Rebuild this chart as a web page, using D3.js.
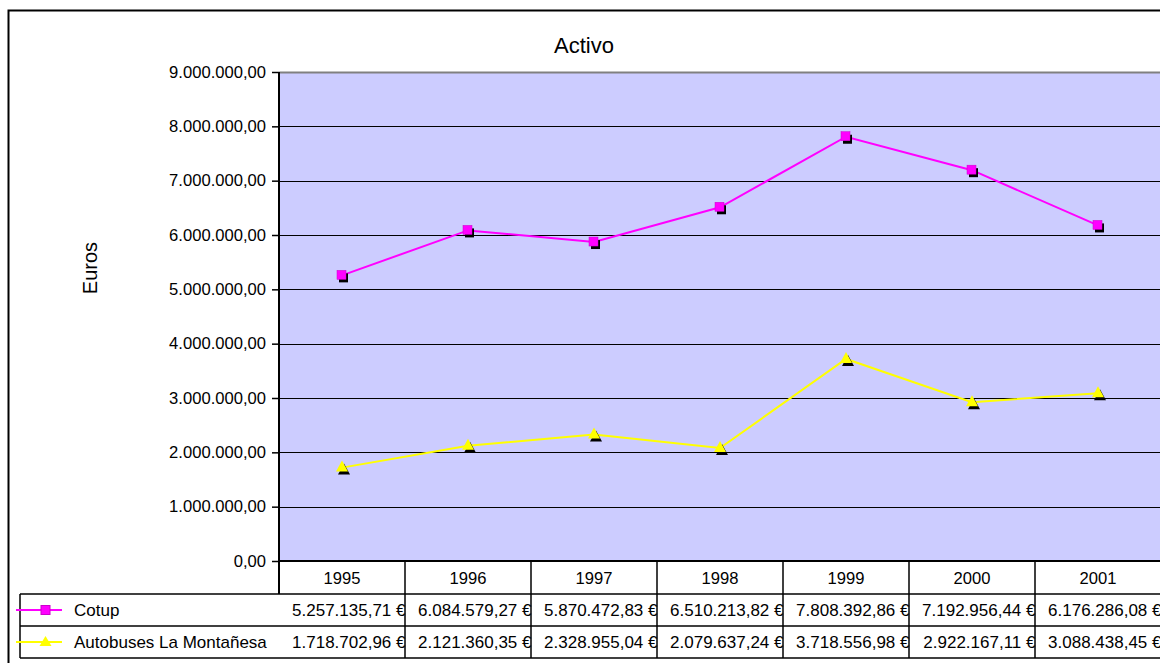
<!DOCTYPE html>
<html><head><meta charset="utf-8">
<script src="https://cdn.jsdelivr.net/npm/d3@7"></script>
<style>
html,body{margin:0;padding:0;background:#fff;overflow:hidden}
text{font-family:"Liberation Sans",Arial,sans-serif;fill:#000}
</style></head>
<body>
<svg id="c" width="1160" height="663"></svg>
<script>
const years = ["1995","1996","1997","1998","1999","2000","2001"];
const cotup = [5257135.71, 6084579.27, 5870472.83, 6510213.82, 7808392.86, 7192956.44, 6176286.08];
const montanesa = [1718702.96, 2121360.35, 2328955.04, 2079637.24, 3718556.98, 2922167.11, 3088438.45];
const seriesNames = ["Cotup", "Autobuses La Montañesa"];
const yTicks = [0,1000000,2000000,3000000,4000000,5000000,6000000,7000000,8000000,9000000];
const titleText = "Activo";
const yLabel = "Euros";

const loc = d3.formatLocale({decimal:",", thousands:".", grouping:[3], currency:["",""]});
const fmt = loc.format(",.2f");

const svg = d3.select("#c");
const L = 279, R = 1161, T = 72, B = 561;
const FS = "16.6px";
const FT = "17px";
const x = d3.scaleBand().domain(years).range([L, R]).padding(0);
const y = d3.scaleLinear().domain([0, 9000000]).range([B, T]);

// outer border
svg.append("rect").attr("x",8.5).attr("y",10.5).attr("width",1160).attr("height",660)
  .attr("fill","none").attr("stroke","#000").attr("stroke-width",2);

// title
svg.append("text").attr("x",584).attr("y",53).attr("text-anchor","middle")
  .style("font-size","22px").text(titleText);
svg.append("text").attr("transform","translate(97,268) rotate(-90)").attr("text-anchor","middle")
  .style("font-size","20px").text(yLabel);

// plot area
svg.append("rect").attr("x",L).attr("y",T).attr("width",R-L).attr("height",B-T).attr("fill","#CCCCFF");
// gridlines
svg.append("g").selectAll("line").data(yTicks.filter(d=>d>0 && d<9000000)).join("line")
  .attr("x1",L).attr("x2",R).attr("y1",d=>Math.round(y(d))+0.5).attr("y2",d=>Math.round(y(d))+0.5)
  .attr("stroke","#000").attr("stroke-width",1.2);
// top border gray
svg.append("line").attr("x1",L).attr("x2",R).attr("y1",T+0.5).attr("y2",T+0.5).attr("stroke","#808080").attr("stroke-width",2);

// y axis
const yAxis = d3.axisLeft(y).tickValues(yTicks).tickFormat(fmt).tickSize(7).tickPadding(6);
const ga = svg.append("g").attr("transform",`translate(${L},0)`).call(yAxis);
ga.select(".domain").remove();
ga.selectAll(".tick line").attr("stroke","#000").attr("stroke-width",1.5);
ga.selectAll(".tick text").style("font-size",FS).style("font-family","'Liberation Sans',Arial,sans-serif").attr("fill","#000");
svg.append("line").attr("x1",L).attr("x2",L).attr("y1",T).attr("y2",594).attr("stroke","#000").attr("stroke-width",2);

// table
const rowH = [[561,594],[594,626],[626,658]];
const tg = svg.append("g");
tg.append("line").attr("x1",L).attr("x2",R).attr("y1",B).attr("y2",B).attr("stroke","#000").attr("stroke-width",2);
[594,626,658].forEach(yy=>{
  tg.append("line").attr("x1",20).attr("x2",R).attr("y1",yy).attr("y2",yy).attr("stroke","#000").attr("stroke-width",1.5);
});
tg.append("line").attr("x1",20).attr("x2",20).attr("y1",594).attr("y2",658).attr("stroke","#000").attr("stroke-width",1.5);
tg.selectAll("text.yr").data(years).join("text").attr("class","yr")
  .attr("x",d=>x(d)+x.bandwidth()/2).attr("y",584).attr("text-anchor","middle").style("font-size",FS).text(d=>d);
const data = [cotup, montanesa];
data.forEach((vals,i)=>{
  tg.selectAll("text.v"+i).data(vals).join("text").attr("class","v"+i)
    .attr("x",(d,j)=>x(years[j])+x.bandwidth()+0.5).attr("y",rowH[i+1][1]-10)
    .attr("text-anchor","end").style("font-size",FT).text(d=>fmt(d)+" €");
});
years.forEach(yr=>{
  const xe = x(yr)+x.bandwidth();
  tg.append("line").attr("x1",xe).attr("x2",xe).attr("y1",B).attr("y2",658).attr("stroke","#000").attr("stroke-width",1.5);
});

// series
const colors = ["#FF00FF","#FFFF00"];
const line = d3.line().x((d,j)=>x(years[j])+x.bandwidth()/2).y(d=>y(d));
function marker(g, i, cx, cy){
  if(i===0){
    g.append("rect").attr("x",cx-3).attr("y",cy-2).attr("width",9).attr("height",9).attr("fill","#000");
    g.append("rect").attr("x",cx-5).attr("y",cy-5).attr("width",9).attr("height",9).attr("fill",colors[0]).attr("stroke","#CC00CC").attr("stroke-width",0.5);
  } else {
    const tri = (ox,oy)=>`M${ox},${oy-7}L${ox+6},${oy+4}L${ox-6},${oy+4}Z`;
    g.append("path").attr("d",tri(cx+2,cy+3)).attr("fill","#000");
    g.append("path").attr("d",tri(cx,cy)).attr("fill",colors[1]);
  }
}
data.forEach((vals,i)=>{
  svg.append("path").datum(vals).attr("d",line).attr("fill","none").attr("stroke",colors[i]).attr("stroke-width",2);
});
data.forEach((vals,i)=>{
  const g = svg.append("g");
  vals.forEach((v,j)=>marker(g,i,x(years[j])+x.bandwidth()/2,y(v)));
});

// legend keys in table
data.forEach((vals,i)=>{
  const cy = (rowH[i+1][0]+rowH[i+1][1])/2;
  svg.append("line").attr("x1",16).attr("x2",62).attr("y1",cy).attr("y2",cy).attr("stroke",colors[i]).attr("stroke-width",2);
  const g = svg.append("g");
  if(i===0){
    g.append("rect").attr("x",41).attr("y",cy-4.5).attr("width",9).attr("height",9).attr("fill",colors[0]).attr("stroke","#CC00CC");
  } else {
    g.append("path").attr("d",`M45.5,${cy-6}L51.5,${cy+4}L39.5,${cy+4}Z`).attr("fill",colors[1]);
  }
  svg.append("text").attr("x",74).attr("y",rowH[i+1][1]-10).style("font-size",FT).text(seriesNames[i]);
});
</script>
</body></html>
